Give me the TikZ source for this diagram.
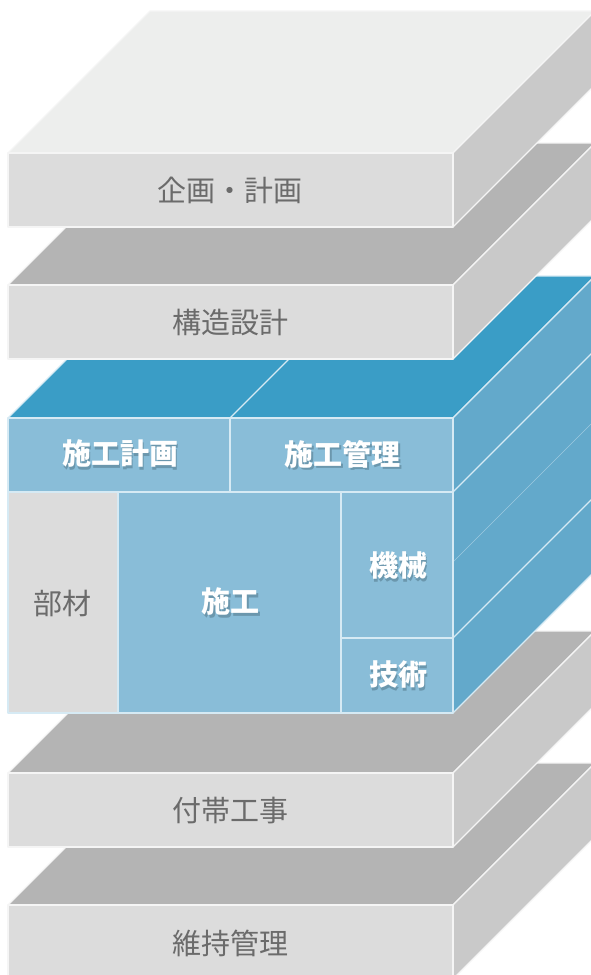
\documentclass[tikz,border=0pt]{standalone}
\usepackage{fontspec}
\newfontfamily\jp{Noto Sans CJK JP}
\definecolor{toplight}{HTML}{EDEEED}
\definecolor{topgray}{HTML}{B4B4B4}
\definecolor{fgray}{HTML}{DCDCDC}
\definecolor{rgray}{HTML}{C9C9C9}
\definecolor{bluetop}{HTML}{3A9DC6}
\definecolor{bluefront}{HTML}{89BDD8}
\definecolor{blueright}{HTML}{63A9CB}
\definecolor{blueline}{HTML}{D6EAF4}
\definecolor{txtgray}{HTML}{6B6B6B}
\definecolor{shadowmix}{HTML}{6B97AD}
\newcommand\myslab[2]{%
  \filldraw[face, fill=#2] (8,#1) -- (453,#1) -- (595,#1-142) -- (150,#1-142) -- cycle;
  \filldraw[face, fill=rgray] (453,#1) -- (595,#1-142) -- (595,#1-68) -- (453,#1+74) -- cycle;
  \filldraw[face, fill=fgray] (8,#1) rectangle (453,#1+74);
}
\newcommand\shadowed[1]{\makebox[0pt][l]{\kern1.8pt\raisebox{-2.2pt}{\textcolor{shadowmix}{#1}}}#1}
\begin{document}
\begin{tikzpicture}[x=1pt,y=-1pt,
  face/.style={draw=white!92!gray, line width=1.3pt, line join=round},
  cell/.style={draw=blueline, line width=1.3pt, line join=round},
  glabel/.style={font=\jp\fontsize{29}{29}\selectfont, text=txtgray, inner sep=0pt},
  blabel/.style={font=\jp\bfseries\fontsize{29}{29}\selectfont, text=white, inner sep=0pt}]
\useasboundingbox (0,0) rectangle (591,975);
\clip (0,0) rectangle (591,975);
% bottom slabs
\myslab{905}{topgray}
\myslab{773}{topgray}
% blue block
\filldraw[cell, fill=bluetop] (8,418) -- (453,418) -- (595,276) -- (150,276) -- cycle;
\draw[cell] (230,418) -- (372,276);
\filldraw[cell, fill=blueright] (453,418) -- (595,276) -- (595,571) -- (453,713) -- cycle;
\draw[cell] (453,492) -- (595,350);
\draw[cell] (453,638) -- (595,496);
\draw[blueline, line width=0.5pt, opacity=0.5] (453,562) -- (595,420);
\filldraw[cell, fill=bluefront] (8,418) rectangle (230,492);
\filldraw[cell, fill=bluefront] (230,418) rectangle (453,492);
\filldraw[cell, fill=fgray] (8,492) rectangle (118,713);
\filldraw[cell, fill=bluefront] (118,492) rectangle (341,713);
\filldraw[cell, fill=bluefront] (341,492) rectangle (453,638);
\filldraw[cell, fill=bluefront] (341,638) rectangle (453,713);
% upper slabs
\myslab{285}{topgray}
\myslab{153}{toplight}
% labels
\node[glabel] (l1) at (230,190) {企画・計画};
\node[glabel] (l2) at (230,322) {構造設計};
\node[glabel] (l3) at (63,603) {部材};
\node[glabel] (l4) at (230,811) {付帯工事};
\node[glabel] (l5) at (230,943) {維持管理};
\node[blabel] (l6) at (120,455) {\shadowed{施工計画}};
\node[blabel] (l7) at (342.5,455) {\shadowed{施工管理}};
\node[blabel] (l8) at (230.5,603) {\shadowed{施工}};
\node[blabel] (l9) at (398,567) {\shadowed{機械}};
\node[blabel] (l10) at (398,676) {\shadowed{技術}};
\end{tikzpicture}
\end{document}
